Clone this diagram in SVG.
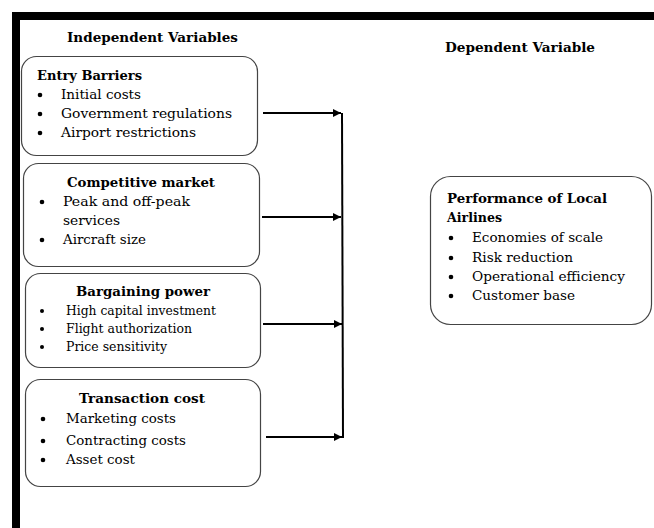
<svg xmlns="http://www.w3.org/2000/svg" width="654" height="528" viewBox="0 0 654 528">
<style>
.box{fill:#fff;stroke:#444;stroke-width:1.2}
text{font-family:"DejaVu Serif","Liberation Serif",serif;fill:#000}
.h{font-weight:bold;font-size:13px}
.t{font-size:12.5px}
.s{font-size:12px}
.b{fill:#000}
.c{stroke:#000;stroke-width:2;fill:none}
</style>
<defs>
<marker id="ah" viewBox="0 0 10 10" refX="10" refY="5" markerWidth="4.5" markerHeight="4" orient="auto" markerUnits="strokeWidth">
<path d="M0,0 L10,5 L0,10 Z" fill="#000"/>
</marker>
</defs>
<rect width="654" height="528" fill="#fff"/>
<rect x="12" y="12" width="642" height="8" fill="#000"/>
<rect x="12" y="12" width="8" height="516" fill="#000"/>

<text class="h" x="67" y="42" textLength="171" lengthAdjust="spacingAndGlyphs">Independent Variables</text>
<text class="h" x="445" y="52" textLength="150" lengthAdjust="spacingAndGlyphs">Dependent Variable</text>

<g id="entry-barriers">
<rect class="box" x="21.5" y="56.5" width="236" height="99" rx="15"/>
<text class="h" x="37" y="80" textLength="105" lengthAdjust="spacingAndGlyphs">Entry Barriers</text>
<circle class="b" cx="40" cy="95" r="2.3"/>
<text class="t" x="61" y="99" textLength="80" lengthAdjust="spacingAndGlyphs">Initial costs</text>
<circle class="b" cx="40" cy="114" r="2.3"/>
<text class="t" x="61" y="118" textLength="171" lengthAdjust="spacingAndGlyphs">Government regulations</text>
<circle class="b" cx="40" cy="133" r="2.3"/>
<text class="t" x="61" y="137" textLength="135" lengthAdjust="spacingAndGlyphs">Airport restrictions</text>
</g>

<g id="competitive-market">
<rect class="box" x="23.5" y="163.5" width="236" height="103" rx="15"/>
<text class="h" x="67" y="187" textLength="148" lengthAdjust="spacingAndGlyphs">Competitive market</text>
<circle class="b" cx="42" cy="202" r="2.3"/>
<text class="t" x="63" y="206" textLength="127" lengthAdjust="spacingAndGlyphs">Peak and off-peak</text>
<text class="t" x="63" y="225" textLength="57" lengthAdjust="spacingAndGlyphs">services</text>
<circle class="b" cx="42" cy="240" r="2.3"/>
<text class="t" x="63" y="244" textLength="83" lengthAdjust="spacingAndGlyphs">Aircraft size</text>
</g>

<g id="bargaining-power">
<rect class="box" x="25.5" y="273.5" width="235" height="94" rx="15"/>
<text class="h" x="76" y="296" textLength="134" lengthAdjust="spacingAndGlyphs">Bargaining power</text>
<circle class="b" cx="42" cy="311" r="2"/>
<text class="s" x="66" y="315" textLength="150" lengthAdjust="spacingAndGlyphs">High capital investment</text>
<circle class="b" cx="42" cy="329" r="2"/>
<text class="s" x="66" y="333" textLength="126" lengthAdjust="spacingAndGlyphs">Flight authorization</text>
<circle class="b" cx="42" cy="347" r="2"/>
<text class="s" x="66" y="351" textLength="101" lengthAdjust="spacingAndGlyphs">Price sensitivity</text>
</g>

<g id="transaction-cost">
<rect class="box" x="25.5" y="379.5" width="235" height="107" rx="15"/>
<text class="h" x="79" y="403" textLength="126" lengthAdjust="spacingAndGlyphs">Transaction cost</text>
<circle class="b" cx="43" cy="419" r="2.3"/>
<text class="t" x="66" y="423" textLength="110" lengthAdjust="spacingAndGlyphs">Marketing costs</text>
<circle class="b" cx="43" cy="441" r="2.3"/>
<text class="t" x="66" y="445" textLength="120" lengthAdjust="spacingAndGlyphs">Contracting costs</text>
<circle class="b" cx="43" cy="460" r="2.3"/>
<text class="t" x="66" y="464" textLength="69" lengthAdjust="spacingAndGlyphs">Asset cost</text>
</g>

<g id="performance">
<rect class="box" x="430.5" y="176.5" width="221" height="148" rx="20"/>
<text class="h" x="447" y="203" textLength="160" lengthAdjust="spacingAndGlyphs">Performance of Local</text>
<text class="h" x="447" y="222" textLength="55" lengthAdjust="spacingAndGlyphs">Airlines</text>
<circle class="b" cx="451" cy="238" r="2.3"/>
<text class="t" x="472" y="242" textLength="131" lengthAdjust="spacingAndGlyphs">Economies of scale</text>
<circle class="b" cx="451" cy="258" r="2.3"/>
<text class="t" x="472" y="262" textLength="101" lengthAdjust="spacingAndGlyphs">Risk reduction</text>
<circle class="b" cx="451" cy="277" r="2.3"/>
<text class="t" x="472" y="281" textLength="153" lengthAdjust="spacingAndGlyphs">Operational efficiency</text>
<circle class="b" cx="451" cy="296" r="2.3"/>
<text class="t" x="472" y="300" textLength="103" lengthAdjust="spacingAndGlyphs">Customer base</text>
</g>

<g id="connectors">
<line class="c" x1="342" y1="113" x2="343" y2="438"/>
<line class="c" x1="263" y1="113" x2="341" y2="113" marker-end="url(#ah)"/>
<line class="c" x1="262" y1="217" x2="341" y2="217" marker-end="url(#ah)"/>
<line class="c" x1="263" y1="324" x2="342" y2="324" marker-end="url(#ah)"/>
<line class="c" x1="266" y1="437" x2="342" y2="437" marker-end="url(#ah)"/>
</g>
</svg>
